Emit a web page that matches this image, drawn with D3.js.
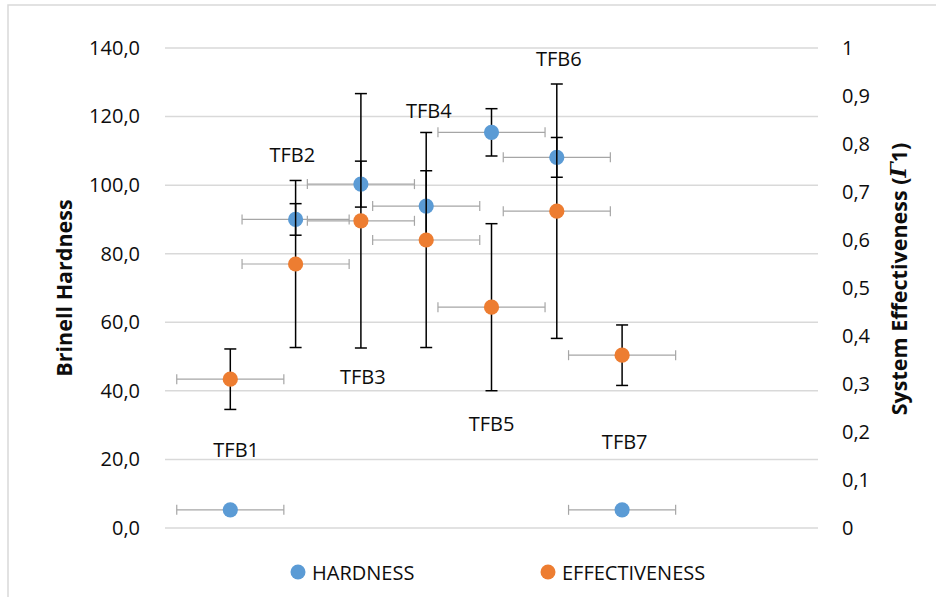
<!DOCTYPE html>
<html>
<head>
<meta charset="utf-8">
<script src="https://cdn.jsdelivr.net/npm/d3@7"></script>
<style>
  html, body { margin: 0; padding: 0; background: #fff; }
  svg { display: block; }
  text { font-family: "Open Sans", "Noto Sans", sans-serif; fill: #0d0d0d; }
</style>
</head>
<body>
<svg id="chart" width="936" height="597"></svg>
<script>
// Sample names and their x positions on the (hidden) horizontal axis
const samples = ["TFB1", "TFB2", "TFB3", "TFB4", "TFB5", "TFB6", "TFB7"];
const sampleX = [1, 2, 3, 4, 5, 6, 7];

// Brinell hardness (left axis) with vertical error
const hardness    = [5.3, 90.0, 100.3, 93.9, 115.4, 108.1, 5.3];
const hardnessErr = [0, 4.6, 6.7, 10.3, 6.9, 5.8, 0];

// System effectiveness Γ1 (right axis) with vertical error
const effectiveness    = [0.31, 0.55, 0.64, 0.60, 0.46, 0.66, 0.36];
const effectivenessErr = [0.063, 0.174, 0.265, 0.224, 0.174, 0.265, 0.063];

// Horizontal error applied to every point
const xErr = 0.82;

// Axis ticks
const leftTicks  = [0, 20, 40, 60, 80, 100, 120, 140];
const rightTicks = [0, 0.1, 0.2, 0.3, 0.4, 0.5, 0.6, 0.7, 0.8, 0.9, 1];

// Where each sample's name sits, in axis units (x, hardness)
const labelAnchorX = [1.09, 1.95, 3.03, 4.04, 5.0, 6.03, 7.04];
const labelAnchorY = [22.9, 108.8, 44.3, 121.8, 30.5, 136.8, 25.1];

const BLUE = "#5b9bd5", ORANGE = "#ed7d31";

const svg = d3.select("#chart");
const plot = { left: 165, right: 818, top: 48, bottom: 528 };

const x  = d3.scaleLinear().domain([0, 10]).range([plot.left, plot.right]);
const yL = d3.scaleLinear().domain([0, 140]).range([plot.bottom, plot.top]);
const yR = d3.scaleLinear().domain([0, 1]).range([plot.bottom, plot.top]);

const locale = d3.formatLocale({ decimal: ",", thousands: ".", grouping: [3], currency: ["", "€"] });
const fmtL = locale.format(".1f");
const fmtR = locale.format("~g");

// Chart frame
svg.append("rect")
  .attr("x", 8).attr("y", 5)
  .attr("width", 940).attr("height", 610)
  .attr("fill", "none").attr("stroke", "#d9d9d9").attr("stroke-width", 1.5);

// Gridlines
svg.append("g").selectAll("line").data(leftTicks).join("line")
  .attr("x1", plot.left).attr("x2", plot.right)
  .attr("y1", d => yL(d)).attr("y2", d => yL(d))
  .attr("stroke", "#d9d9d9").attr("stroke-width", 1.5);

// Left axis
const axL = svg.append("g").attr("transform", `translate(${plot.left - 22},0)`)
  .call(d3.axisLeft(yL).tickValues(leftTicks).tickFormat(fmtL).tickSize(0).tickPadding(3));
axL.select(".domain").remove();
axL.selectAll("text").attr("font-size", 20).attr("font-family", null).attr("fill", "#0d0d0d");

// Right axis
const axR = svg.append("g").attr("transform", `translate(${plot.right + 21},0)`)
  .call(d3.axisRight(yR).tickValues(rightTicks).tickFormat(fmtR).tickSize(0).tickPadding(3));
axR.select(".domain").remove();
axR.selectAll("text").attr("font-size", 20).attr("font-family", null).attr("fill", "#0d0d0d");

// Axis titles
svg.append("text")
  .attr("transform", "translate(63,288) rotate(-90)")
  .attr("text-anchor", "middle").attr("dominant-baseline", "central")
  .attr("font-size", 21.5).attr("font-weight", "bold")
  .text("Brinell Hardness");

const rt = svg.append("text")
  .attr("transform", "translate(898,279) rotate(-90)")
  .attr("text-anchor", "middle").attr("dominant-baseline", "central")
  .attr("font-size", 21.5).attr("font-weight", "bold");
rt.append("tspan").text("System Effectiveness (");
rt.append("tspan").attr("font-style", "italic").attr("font-family", "DejaVu Serif, serif").text("Γ");
rt.append("tspan").text("1)");

// Error bars for a series
function drawErrors(vals, errs, yScale) {
  const g = svg.append("g");
  const rows = vals.map((v, i) => ({ x: sampleX[i], v, e: errs[i] }));
  // horizontal (gray)
  const h = g.append("g").attr("stroke", "#a6a6a6").attr("stroke-width", 1.2);
  rows.forEach(r => {
    const cy = yScale(r.v);
    h.append("line").attr("x1", x(r.x - xErr)).attr("x2", x(r.x + xErr)).attr("y1", cy).attr("y2", cy);
    [r.x - xErr, r.x + xErr].forEach(xx =>
      h.append("line").attr("x1", x(xx)).attr("x2", x(xx)).attr("y1", cy - 5).attr("y2", cy + 5));
  });
  // vertical (black)
  const vg = g.append("g").attr("stroke", "#000").attr("stroke-width", 1.5);
  rows.filter(r => r.e > 0).forEach(r => {
    const cx = x(r.x), y0 = yScale(r.v - r.e), y1 = yScale(r.v + r.e);
    vg.append("line").attr("x1", cx).attr("x2", cx).attr("y1", y0).attr("y2", y1);
    [y0, y1].forEach(yy =>
      vg.append("line").attr("x1", cx - 6).attr("x2", cx + 6).attr("y1", yy).attr("y2", yy));
  });
}

function drawMarkers(vals, yScale, color) {
  svg.append("g").selectAll("circle").data(vals).join("circle")
    .attr("cx", (d, i) => x(sampleX[i]))
    .attr("cy", d => yScale(d))
    .attr("r", 7.6)
    .attr("fill", color);
}

drawErrors(hardness, hardnessErr, yL);
drawMarkers(hardness, yL, BLUE);
drawErrors(effectiveness, effectivenessErr, yR);
drawMarkers(effectiveness, yR, ORANGE);

// Sample labels
svg.append("g").selectAll("text").data(samples).join("text")
  .attr("x", (d, i) => x(labelAnchorX[i]))
  .attr("y", (d, i) => yL(labelAnchorY[i]))
  .attr("text-anchor", "middle").attr("dominant-baseline", "central")
  .attr("font-size", 20)
  .text(d => d);

// Legend
const legend = svg.append("g");
[["HARDNESS", BLUE, 298], ["EFFECTIVENESS", ORANGE, 548]].forEach(([name, color, lx]) => {
  legend.append("circle").attr("cx", lx).attr("cy", 572).attr("r", 7.5).attr("fill", color);
  legend.append("text").attr("x", lx + 14).attr("y", 572)
    .attr("dominant-baseline", "central").attr("font-size", 20).text(name);
});
</script>
</body>
</html>
